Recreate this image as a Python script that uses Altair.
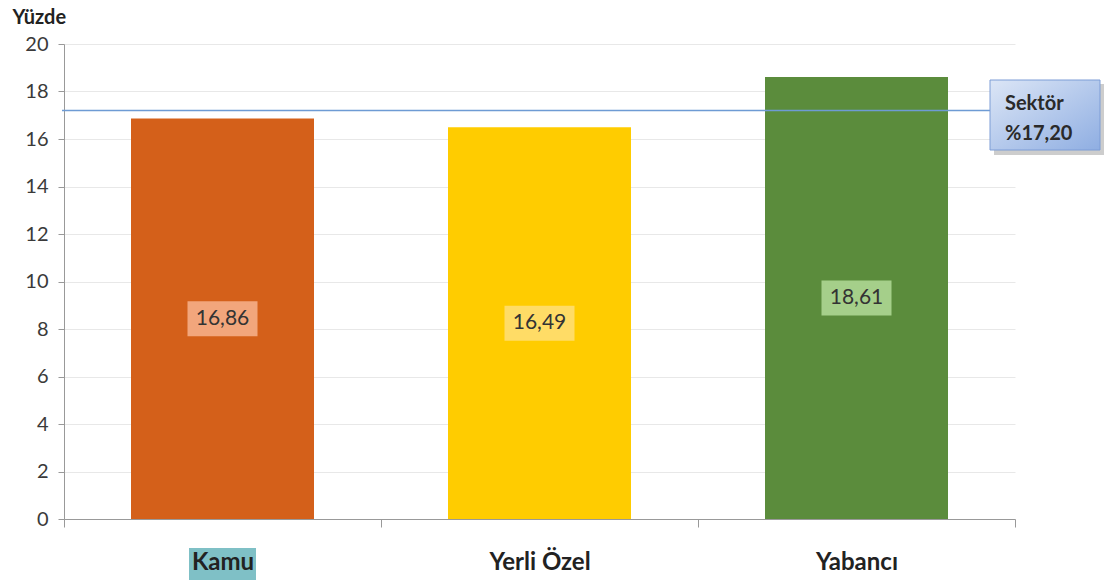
import altair as alt
import pandas as pd

categories = ["Kamu", "Yerli Özel", "Yabancı"]
values = [16.86, 16.49, 18.61]
labels = ["16,86", "16,49", "18,61"]
bar_colors = ["#D4601A", "#FFCC00", "#5B8C3C"]
box_colors = ["#F2A67C", "#FFDC66", "#A5CF8A"]
sector_value = 17.20
sector_label = "Sektör\n%17,20"

df = pd.DataFrame({
    "cat": categories,
    "value": values,
    "label": labels,
    "color": bar_colors,
    "box": box_colors,
})
df["mid"] = df["value"] / 2

W, H = 951, 475
font = "Lato"
yscale = alt.Scale(domain=[0, 20])
xscale = alt.Scale(paddingInner=0, paddingOuter=0)

xaxis = alt.Axis(title=None, labelAngle=0, labelFont=font, labelFontSize=24,
                 labelFontWeight="bold", labelColor="#222222", labelPadding=23,
                 tickBand="extent", tickSize=8, tickColor="#999999",
                 domainColor="#999999", grid=False, zindex=1)
yaxis = alt.Axis(values=list(range(0, 21, 2)), title="Yüzde", titleAngle=0,
                 titleX=-52, titleY=-37, titleAlign="left", titleBaseline="top",
                 titleFont=font, titleFontSize=20, titleFontWeight="bold",
                 titleColor="#222222",
                 labelFont=font, labelFontSize=20, labelColor="#3A3A3A",
                 labelPadding=10, tickSize=6, tickColor="#999999",
                 domainColor="#999999", gridColor="#E8E8E8")


def X():
    return alt.X("cat:N", sort=categories, scale=xscale, axis=xaxis)


def Y(field):
    return alt.Y(field, scale=yscale, axis=yaxis)


base = alt.Chart(df)

bars = base.mark_bar(width=183).encode(
    x=X(), y=Y("value:Q"),
    color=alt.Color("color:N", scale=None),
)

highlight = alt.Chart(df[df["cat"] == "Kamu"]).mark_bar(width=67, color="#7FC0C6").encode(
    x=X(),
    y=alt.value(H + 29), y2=alt.value(H + 61),
)

boxes = base.mark_point(shape="M-1,-0.5H1V0.5H-1Z", size=4900, filled=True, opacity=1).encode(
    x=X(),
    y=Y("mid:Q"),
    color=alt.Color("box:N", scale=None),
)

texts = base.mark_text(font=font, fontSize=21, color="#333333").encode(
    x=X(),
    y=Y("mid:Q"),
    text="label:N",
)

sector_df = pd.DataFrame({"v": [sector_value], "t": [sector_label]})
rule = alt.Chart(sector_df).mark_rule(color="#6E9BD4", strokeWidth=1.6).encode(
    y=Y("v:Q"), x=alt.value(-2), x2=alt.value(928),
)

grad = alt.LinearGradient(
    gradient="linear",
    stops=[alt.GradientStop(color="#DCE6F6", offset=0),
           alt.GradientStop(color="#8FAEE2", offset=1)],
    x1=0, x2=1, y1=0, y2=1,
)
shadow = alt.Chart(sector_df).mark_rect(color="#B8B8B8", opacity=0.7).encode(
    x=alt.value(930), x2=alt.value(1040), y=alt.value(40), y2=alt.value(111),
)
callout = alt.Chart(sector_df).mark_rect(fill=grad, stroke="#7C9DD6", strokeWidth=1).encode(
    x=alt.value(926), x2=alt.value(1036), y=alt.value(36), y2=alt.value(106),
)
callout_text = alt.Chart(sector_df).mark_text(
    font=font, fontSize=20, fontWeight="bold", color="#2A2A2A", align="left",
    baseline="middle", lineBreak="\n", lineHeight=30,
).encode(
    x=alt.value(941),
    y=alt.value(60),
    text="t:N",
)

chart = alt.layer(bars, highlight, boxes, texts, rule, shadow, callout, callout_text).properties(
    width=W, height=H,
    autosize=alt.AutoSizeParams(type="none"),
    padding={"left": 64, "top": 44, "right": 89, "bottom": 64},
    background="white",
).configure_view(stroke=None)

chart.save("out.html", embed_options={"renderer": "svg", "actions": False})
